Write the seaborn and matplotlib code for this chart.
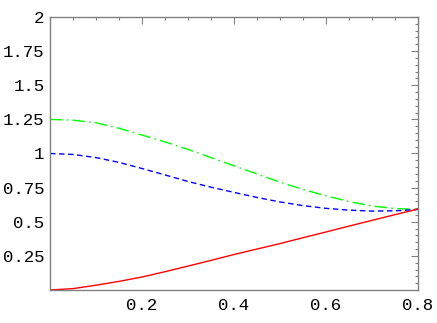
import numpy as np
import pandas as pd
import seaborn as sns
import matplotlib.pyplot as plt
from matplotlib.ticker import MultipleLocator, FixedLocator

# valores
x = [0.0, 0.05, 0.1, 0.15, 0.2, 0.25, 0.3, 0.35, 0.4, 0.45, 0.5, 0.55, 0.6, 0.65, 0.7, 0.75, 0.8]
rojo = [0.0, 0.01, 0.035, 0.063, 0.095, 0.134, 0.175, 0.217, 0.26, 0.30, 0.34, 0.383, 0.425, 0.468, 0.51, 0.552, 0.593]
azul = [1.0, 0.993, 0.97, 0.935, 0.89, 0.843, 0.795, 0.753, 0.715, 0.678, 0.645, 0.618, 0.598, 0.585, 0.578, 0.58, 0.59]
verde = [1.25, 1.244, 1.225, 1.185, 1.135, 1.085, 1.03, 0.97, 0.91, 0.85, 0.79, 0.737, 0.69, 0.648, 0.615, 0.597, 0.59]

xticks = [0.2, 0.4, 0.6, 0.8]
yticks = [0.25, 0.5, 0.75, 1, 1.25, 1.5, 1.75, 2]
xlabels = ["0.2", "0.4", "0.6", "0.8"]
ylabels = ["0.25", "0.5", "0.75", "1", "1.25", "1.5", "1.75", "2"]

df = pd.DataFrame({'x': x, 'rojo': rojo, 'azul': azul, 'verde': verde})

sns.set_style("white")
plt.rcParams['font.family'] = ['Liberation Mono', 'DejaVu Sans Mono']

fig = plt.figure(figsize=(4.37, 3.23), dpi=100)
ax = fig.add_axes([0.1144, 0.1022, 0.8421, 0.8452])

sns.lineplot(data=df, x='x', y='verde', ax=ax, color='#00ff00', lw=1.0)
ax.lines[-1].set_dashes([9, 3, 1.2, 3])
sns.lineplot(data=df, x='x', y='azul', ax=ax, color='#0000ff', lw=1.0)
ax.lines[-1].set_dashes([4, 2.5])
sns.lineplot(data=df, x='x', y='rojo', ax=ax, color='#ff0000', lw=1.0)

ax.set_xlim(0, 0.8)
ax.set_ylim(0, 2)
ax.xaxis.set_major_locator(FixedLocator(xticks))
ax.yaxis.set_major_locator(FixedLocator(yticks))
ax.set_xticklabels(xlabels)
ax.set_yticklabels(ylabels)
ax.xaxis.set_minor_locator(MultipleLocator(0.05))
ax.yaxis.set_minor_locator(MultipleLocator(0.05))
ax.set_xlabel("")
ax.set_ylabel("")

for s in ax.spines.values():
    s.set_color('#808080')
    s.set_linewidth(1.0)
ax.tick_params(which='both', direction='in', top=True, right=True, color='#808080', width=0.8,
               labelsize=12.5, labelcolor='black')
ax.tick_params(which='major', length=5)
ax.tick_params(which='minor', length=2.5)
ax.tick_params(axis='y', pad=4)
ax.tick_params(axis='x', pad=6)

plt.savefig("out.png", dpi=100)
